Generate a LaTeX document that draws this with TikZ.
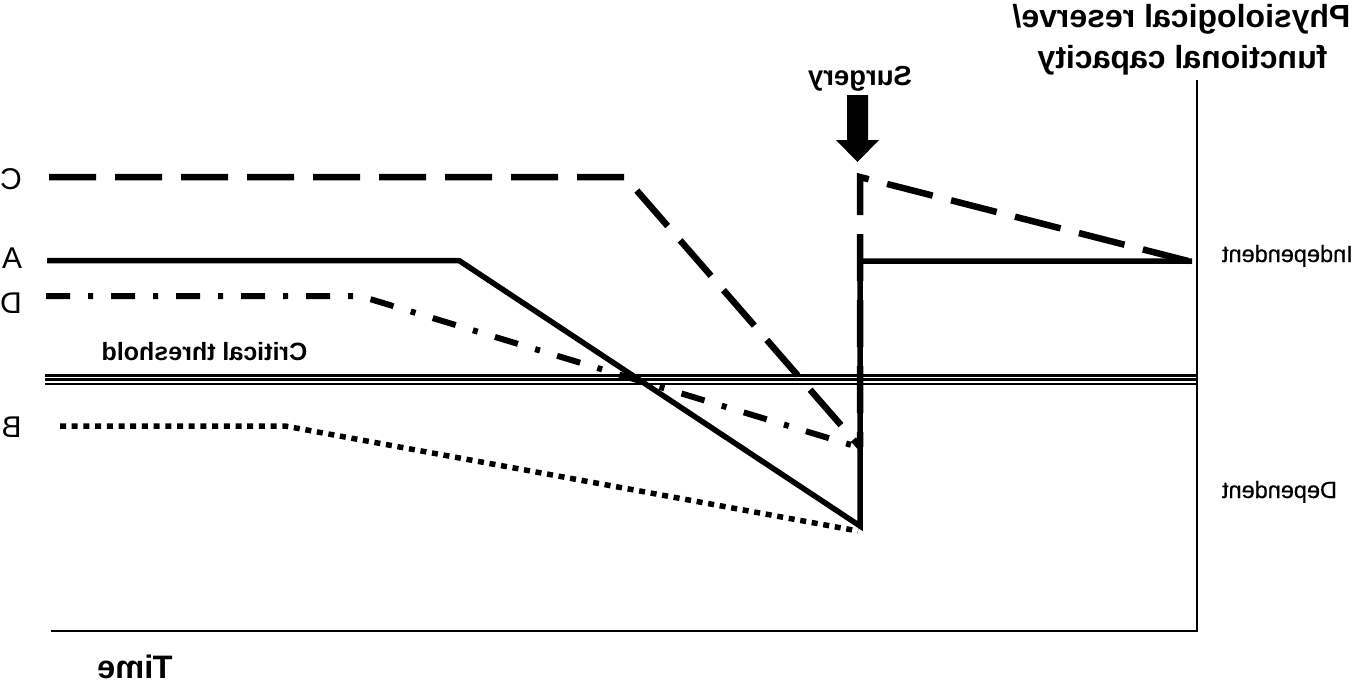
\documentclass[tikz,border=0pt]{standalone}
\usepackage{fontspec}
\setmainfont{Liberation Sans}
\newfontfamily\medfont[FakeBold=0.6]{Liberation Sans}
\usepackage{graphicx}
\begin{document}
\begin{tikzpicture}[x=1pt,y=-1pt,
  lbl/.style={inner sep=0pt,outer sep=0pt,anchor=base},
  hd/.style={lbl,font=\fontsize{32}{38}\selectfont\bfseries},
  letter/.style={lbl,font=\fontsize{30}{36}\selectfont},
  side/.style={lbl,anchor=base west,font=\medfont\fontsize{23.5}{28}\selectfont},
  axisline/.style={line width=2.5pt},
  curveA/.style={line width=5.5pt,line join=miter,miter limit=20},
  curveC/.style={line width=6.5pt,line join=miter,miter limit=20,dash pattern=on 47pt off 19pt},
  curveD/.style={line width=6pt,line join=miter,dash pattern=on 24pt off 18pt on 5pt off 18pt},
  curveB/.style={line width=5.5pt,dash pattern=on 6pt off 5.7pt}]
\useasboundingbox (0,0) rectangle (1354,683);

% axes
\coordinate (o) at (51,631);
\coordinate (xe) at (1198,631);
\coordinate (yt) at (1197,80);
\draw[axisline] (o) -- (xe);
\draw[axisline] (yt) -- (1197,632);

% critical threshold (triple line)
\draw[line width=3pt] (45,375) -- (1197,375);
\draw[line width=3pt] (45,379.5) -- (1197,379.5);
\draw[line width=2pt] (45,384.3) -- (1197,384.3);

% curve B (dotted)
\draw[curveB] (60,426) -- (285,426) -- (858,531);
% curve D (dash-dot)
\draw[curveD] (46,296) -- (360,296) -- (858,447);
% curve A (solid)
\draw[curveA] (47,260.5) -- (459,260.5) -- (860,526) -- (860,261) -- (1192,261);
% curve C (dashed)
\draw[curveC] (49,177) -- (625,177) -- (860,447);
\draw[curveC,dash phase=32pt] (860,447) -- (860,177) -- (1192,262);

% surgery arrow
\fill (847,95) -- (868,95) -- (868,140) -- (879,140) -- (857.5,162) -- (836,140) -- (847,140) -- cycle;

% texts (mirrored as in the picture)
\node[hd] (t1) at (1181.5,27) {\reflectbox{Physiological reserve/}};
\node[hd] (t2) at (1182.5,68) {\reflectbox{functional capacity}};
\node[lbl,font=\fontsize{27.5}{32}\selectfont\bfseries] (surg) at (860,85) {\reflectbox{Surgery}};
\node[lbl,font=\fontsize{25}{30}\selectfont\bfseries] (crit) at (204.5,360) {\reflectbox{Critical threshold}};
\node[lbl,font=\fontsize{32.5}{38}\selectfont\bfseries] (time) at (135,678) {\reflectbox{Time}};
\node[side] (indep) at (1222,262) {\reflectbox{Independent}};
\node[side] (dep) at (1222,498) {\reflectbox{Dependent}};
\node[letter] (lC) at (11,189) {\reflectbox{C}};
\node[letter] (lA) at (12,268) {\reflectbox{A}};
\node[letter] (lD) at (11,313) {\reflectbox{D}};
\node[letter] (lB) at (11.5,437) {\reflectbox{B}};
\end{tikzpicture}
\end{document}
